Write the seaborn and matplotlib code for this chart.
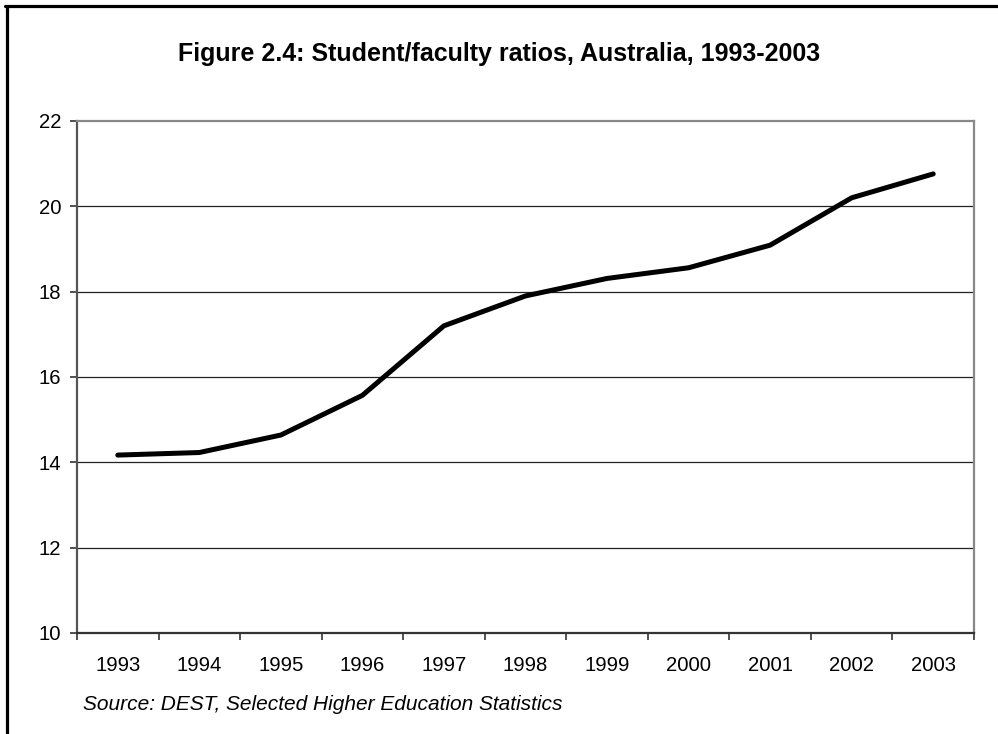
import matplotlib
matplotlib.use("Agg")
import matplotlib.pyplot as plt
from matplotlib.lines import Line2D
from matplotlib.ticker import FixedLocator
import seaborn as sns
import pandas as pd
import numpy as np

years = ["1993", "1994", "1995", "1996", "1997", "1998", "1999", "2000", "2001", "2002", "2003"]
ratios = [14.17, 14.23, 14.64, 15.57, 17.20, 17.90, 18.31, 18.56, 19.09, 20.20, 20.76]
yticks = [10, 12, 14, 16, 18, 20, 22]
title = "Figure 2.4: Student/faculty ratios, Australia, 1993-2003"
source = "Source: DEST, Selected Higher Education Statistics"

sns.set_theme(style="white")
plt.rcParams['font.family'] = ['Liberation Sans', 'DejaVu Sans']
plt.rcParams['text.color'] = 'black'

df = pd.DataFrame({"year": years, "ratio": ratios})

fig = plt.figure(figsize=(9.98, 7.34), dpi=100)
fig.patch.set_facecolor("white")
ax = fig.add_axes([77/998, 1-633/734, (974-77)/998, (633-121)/734])

sns.lineplot(data=df, x="year", y="ratio", ax=ax, color="black", linewidth=3.6,
             solid_capstyle="round", solid_joinstyle="round", sort=False)

ax.set_xlim(-0.5, len(years) - 0.5)
ax.set_ylim(10, 22)
ax.set_yticks(yticks)
ax.set_yticklabels([str(v) for v in yticks])
ax.set_xticks(range(len(years)))
ax.set_xticklabels(years)
ax.xaxis.set_minor_locator(FixedLocator(np.arange(-0.5, len(years), 1.0)))
ax.tick_params(axis="x", which="major", length=0, pad=16.3, labelsize=14.6, colors="black")
ax.tick_params(axis="x", which="minor", length=5, width=1.2, color="#333333", direction="out", bottom=True)
ax.tick_params(axis="y", which="major", length=5, width=1.2, color="#333333", direction="out",
               left=True, pad=6.5, labelsize=14.6, labelcolor="black")
ax.set_xlabel("")
ax.set_ylabel("")

for v in yticks[1:-1]:
    ax.axhline(v, color="#222222", linewidth=0.9, zorder=0)

ax.spines["top"].set_color("#888888")
ax.spines["right"].set_color("#888888")
ax.spines["left"].set_color("#555555")
ax.spines["bottom"].set_color("#333333")
for s in ax.spines.values():
    s.set_linewidth(1.6)
    s.set_visible(True)

fig.text(499/998, 1-54/734, title, ha="center", va="center", fontsize=18, fontweight="bold", color="black")
fig.text(83/998, 1-705/734, source, ha="left", va="center", fontsize=15, style="italic", color="black")

# figure frame (left and top edges)
fig.add_artist(Line2D([6.5/998, 6.5/998], [0, 1-5.5/734], transform=fig.transFigure, color="black", linewidth=2.3))
fig.add_artist(Line2D([5.4/998, 1], [1-5.5/734, 1-5.5/734], transform=fig.transFigure, color="black", linewidth=2.3))

fig.savefig("out.png", dpi=100, facecolor="white")
